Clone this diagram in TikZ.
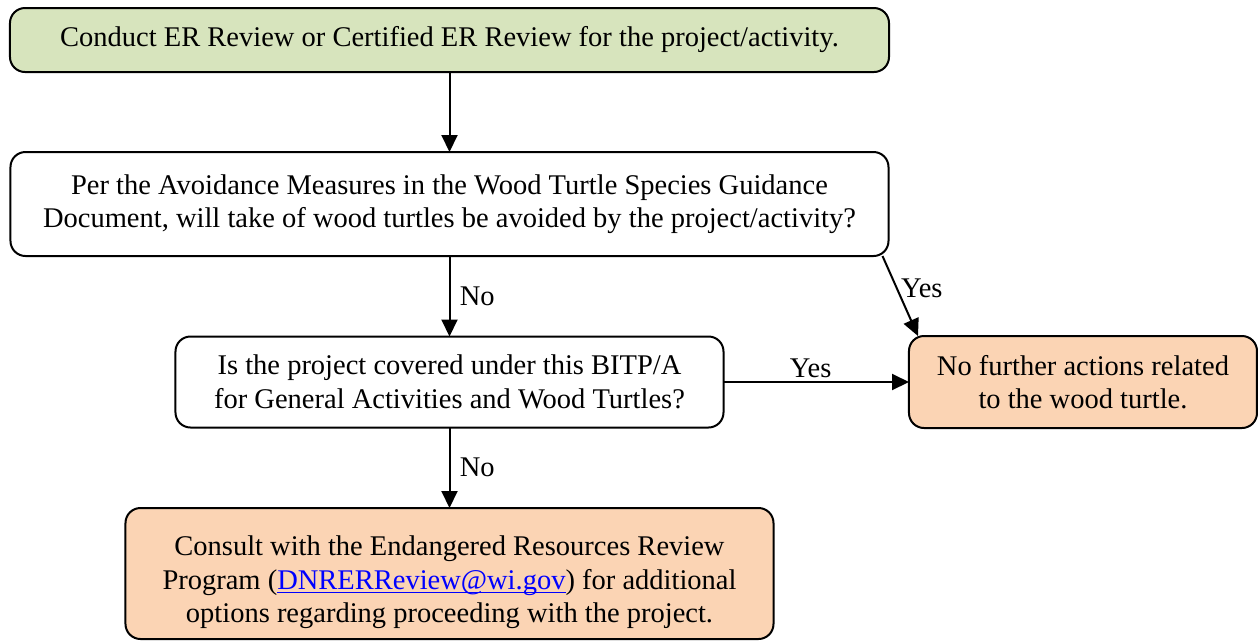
\documentclass[tikz,border=0pt]{standalone}
\usepackage{fontspec}
\setmainfont{Liberation Serif}
\usetikzlibrary{matrix,arrows.meta}

\definecolor{startgreen}{HTML}{D7E4BD}
\definecolor{endorange}{HTML}{FBD4B4}
\definecolor{linkblue}{HTML}{0000FF}

\newlength\maillen
\newcommand\maillink[1]{\textcolor{linkblue}{\settowidth\maillen{#1}\rlap{\rule[-4pt]{\maillen}{1.8pt}}#1}}

\begin{document}
\begin{tikzpicture}[x=1pt,y=-1pt,font=\fontsize{28.5}{33.5}\selectfont,
    box/.style={draw,line width=2pt,rounded corners=15pt,align=center,inner sep=0pt},
    arr/.style={-{Triangle[length=17pt,width=16pt]},line width=2pt}]
  \useasboundingbox (0,0) rectangle (1259,641);
  \matrix (m) [row sep=78pt,column sep=18pt,inner sep=0pt,outer sep=0pt,matrix anchor=north west] at (9,7)
  {
     \node (start) [box,fill=startgreen,minimum width=879pt,minimum height=64pt] {Conduct ER Review or Certified ER Review for the project/activity.}; & \\
     \node (avoid) [box,minimum width=878pt,minimum height=104pt] {Per the Avoidance Measures in the Wood Turtle Species Guidance\\Document, will take of wood turtles be avoided by the project/activity?}; & \\
     \node (covered) [box,minimum width=548pt,minimum height=91pt] {Is the project covered under this BITP/A\\for General Activities and Wood Turtles?}; &
     \node (nofurther) [box,fill=endorange,minimum width=348pt,minimum height=92pt] {No further actions related\\to the wood turtle.}; \\
     \node (consult) [box,fill=endorange,minimum width=648pt,minimum height=131pt] {\rule{0pt}{38pt}Consult with the Endangered Resources Review\\Program (\maillink{DNRERReview@wi.gov}) for additional\\options regarding proceeding with the project.}; & \\
  };
  \path[arr]
    (start) edge (avoid)

    (avoid) edge node [right,xshift=6pt] {No} (covered)

    (covered) edge node [right,xshift=6pt] {No} (consult)
              edge node [above,inner sep=3pt,pos=0.47] {Yes} (nofurther)

    ([xshift=-6pt]avoid.south east) edge node [right,pos=0.4] {Yes} ([xshift=9pt]nofurther.north west);
\end{tikzpicture}
\end{document}
